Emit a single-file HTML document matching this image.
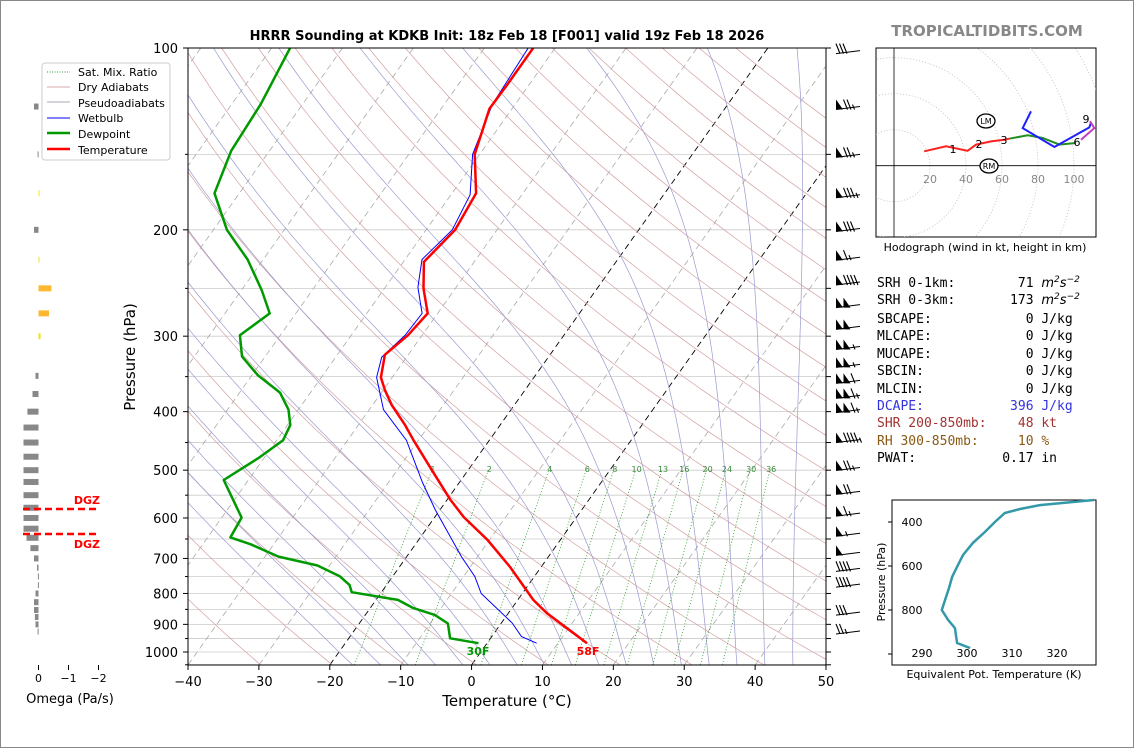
<!DOCTYPE html>
<html><head><meta charset="utf-8"><style>
html,body{margin:0;padding:0;background:#fff}
svg{display:block;font-family:"DejaVu Sans","Liberation Sans",sans-serif}
.mono{font-family:"DejaVu Sans Mono","Liberation Mono",monospace;font-size:13px;white-space:pre}
</style></head><body>
<svg id="chart" width="1134" height="748" viewBox="0 0 1134 748" xmlns="http://www.w3.org/2000/svg">
<rect x="0.5" y="0.5" width="1133" height="747" fill="#fff" stroke="#888"/>
<defs><clipPath id="plotclip"><rect x="188" y="48" width="638" height="617"/></clipPath>
<clipPath id="hodoclip"><rect x="876" y="48" width="220" height="189"/></clipPath></defs>
<text x="507" y="40" text-anchor="middle" font-size="13" font-weight="bold">HRRR Sounding at KDKB Init: 18z Feb 18 [F001] valid 19z Feb 18 2026</text>
<text x="987" y="36" text-anchor="middle" font-size="15" font-weight="bold" fill="#888">TROPICALTIDBITS.COM</text>
<g id="bg" clip-path="url(#plotclip)"></g>
<g id="profiles" clip-path="url(#plotclip)"></g>
<rect x="188" y="48" width="638" height="617" fill="none" stroke="#000"/>
<g id="axes"></g>
<text x="507" y="706" text-anchor="middle" font-size="15">Temperature (°C)</text>
<text transform="translate(135,357) rotate(-90)" text-anchor="middle" font-size="15">Pressure (hPa)</text>
<text x="478" y="655" text-anchor="middle" font-size="11" font-weight="bold" fill="#009900">30F</text>
<text x="588" y="655" text-anchor="middle" font-size="11" font-weight="bold" fill="#ff0000">58F</text>
<g id="barbs"></g>
<g id="omega"></g>
<g>
<rect x="42" y="63" width="128" height="97" rx="3" fill="#fff" stroke="#ccc"/>
<line x1="47" y1="72" x2="70" y2="72" stroke="#2a9a2a" stroke-dasharray="1,1.5"/>
<text x="78" y="76" font-size="11">Sat. Mix. Ratio</text>
<line x1="47" y1="87" x2="70" y2="87" stroke="#d8aaaa"/>
<text x="78" y="91" font-size="11">Dry Adiabats</text>
<line x1="47" y1="102" x2="70" y2="102" stroke="#aab"/>
<text x="78" y="107" font-size="11">Pseudoadiabats</text>
<line x1="47" y1="118" x2="70" y2="118" stroke="#00f"/>
<text x="78" y="122" font-size="11">Wetbulb</text>
<line x1="47" y1="133" x2="70" y2="133" stroke="#009900" stroke-width="2.5"/>
<text x="78" y="138" font-size="11">Dewpoint</text>
<line x1="47" y1="149" x2="70" y2="149" stroke="#f00" stroke-width="2.5"/>
<text x="78" y="154" font-size="11">Temperature</text>
</g>
<g id="hodo">
<rect x="876" y="48" width="220" height="189" fill="#fff" stroke="#000"/>
</g>
<text x="985" y="251" text-anchor="middle" font-size="11">Hodograph (wind in kt, height in km)</text>
<g>
<text class="mono" x="877" y="287">SRH 0-1km:        71 <tspan font-style="italic" font-family="DejaVu Sans">m<tspan dy="-5" font-size="9">2</tspan><tspan dy="5">s</tspan><tspan dy="-5" font-size="9">−2</tspan></tspan></text>
<text class="mono" x="877" y="304">SRH 0-3km:       173 <tspan font-style="italic" font-family="DejaVu Sans">m<tspan dy="-5" font-size="9">2</tspan><tspan dy="5">s</tspan><tspan dy="-5" font-size="9">−2</tspan></tspan></text>
<text class="mono" x="877" y="323">SBCAPE:            0 J/kg</text>
<text class="mono" x="877" y="340">MLCAPE:            0 J/kg</text>
<text class="mono" x="877" y="358">MUCAPE:            0 J/kg</text>
<text class="mono" x="877" y="375">SBCIN:             0 J/kg</text>
<text class="mono" x="877" y="393">MLCIN:             0 J/kg</text>
<text class="mono" x="877" y="410" fill="#3333dd">DCAPE:           396 J/kg</text>
<text class="mono" x="877" y="427" fill="#a33333">SHR 200-850mb:    48 kt</text>
<text class="mono" x="877" y="445" fill="#8b5a14">RH 300-850mb:     10 %</text>
<text class="mono" x="877" y="462">PWAT:           0.17 in</text>
</g>
<g id="thetae">
<rect x="892" y="500" width="204" height="165" fill="#fff" stroke="#000"/>
</g>
<text x="994" y="678" text-anchor="middle" font-size="11">Equivalent Pot. Temperature (K)</text>
<text transform="translate(885,582) rotate(-90)" text-anchor="middle" font-size="11">Pressure (hPa)</text>
</svg>
<script>
// ---- Data ----
const tempP = [967,862,820,723,652,598,560,500,446,421,390,368,351,322,299,275,250,226,200,174,150,126,115,100];
const tempT = [14.1,5.4,2.2,-4.4,-10.3,-15.9,-19.5,-25.1,-30.7,-33.4,-37.3,-39.8,-41.6,-43.3,-42,-41.4,-44.5,-47.1,-45.9,-46.6,-50.7,-53.2,-53.1,-53.1];
const dewP = [967,949,897,868,846,820,796,775,749,719,695,663,646,599,519,476,446,421,397,372,348,324,299,275,252,224,200,174,148,124,100];
const dewT = [-1.2,-5.7,-7.5,-10.2,-13.9,-16.9,-24.2,-25.2,-27.5,-31.7,-38.1,-43.3,-46.8,-47.2,-53.5,-50.7,-49.1,-49.6,-51.4,-54.3,-59.2,-63.3,-65.7,-63.7,-67.1,-72.2,-78.1,-83.5,-85.4,-85.9,-87.4];
const wbP = [967,943,895,800,750,695,581,524,446,397,351,325,299,275,249,224,200,175,150,124,100];
const wbT = [7.0,4.2,1.5,-5.8,-8.4,-12.3,-20.7,-25.2,-31.7,-38,-42.2,-43.5,-42.4,-42.2,-45.4,-47.6,-46.3,-47.3,-51,-53.2,-53.8];
const pTicks = [100,200,300,400,500,600,700,800,900,1000];
const tTicks = [-40,-30,-20,-10,0,10,20,30,40,50];
const mixRatios = [1,2,4,6,8,10,13,16,20,24,30,36];
const barbP = [101,125,150,175,199,222,244,266,289,312,334,355,376,397,445,495,542,589,636,684,727,772,859,923];
const barbSpd = [30,75,75,85,80,65,90,100,100,105,105,110,115,115,95,75,70,65,55,50,40,40,30,25];
const omegaP = [125,150,174,200,224,250,275,300,349,374,400,425,450,475,500,523,550,577,600,625,647,673,700,725,750,775,800,827,852,875,900,925];
const omegaV = [0.15,0.03,-0.02,0.15,-0.03,-0.43,-0.35,-0.07,0.1,0.2,0.37,0.5,0.5,0.5,0.5,0.5,0.5,0.5,0.5,0.5,0.4,0.27,0.15,0.05,0.02,0.02,0.1,0.15,0.15,0.12,0.1,0.03];
const hodoRedU = [16.8,28.9,40.9,45.6,53.9,61.3,64];
const hodoRedV = [8,10.8,8.3,11.7,13.5,14.4,15];
const hodoGreenU = [64,74.3,82.6,91.9,101];
const hodoGreenV = [15,16.9,15.4,11.7,12.6];
const hodoBlueU = [76.1,71.5,89.1,108.5,109.4];
const hodoBlueV = [30.2,20.9,10.4,21.3,23.7];
const hodoPurpleU = [103.9,111.3,108.9];
const hodoPurpleV = [14.4,20.9,24.7];
const thetaP = [973,950,882,845,800,755,700,650,595,550,495,445,400,359,341,323,300];
const thetaK = [300.7,297.8,297.3,295.8,294.4,295.1,296.0,296.7,298.0,299.1,301.3,304.0,306.2,308.4,311.8,316.2,328.2];

// ---- Scales ----
const NS='http://www.w3.org/2000/svg';
function yP(p){return 48+604*Math.log10(p/100);}
function xT(T,p){return 188+(T+40)*7.089+0.71*(665-yP(p));}
function mk(parent,tag,attrs){const e=document.createElementNS(NS,tag);for(const k in attrs)e.setAttribute(k,attrs[k]);parent.appendChild(e);return e;}
function ptsFromTP(P,T){return P.map((p,i)=>xT(T[i],p).toFixed(1)+','+yP(p).toFixed(1)).join(' ');}
const bg=document.getElementById('bg'), pr=document.getElementById('profiles'), ax=document.getElementById('axes');

for(let p=100;p<=1050;p+=50){
 const l=mk(bg,'line',{x1:188,x2:826,y1:yP(p),y2:yP(p),stroke:'#ccc','stroke-width':0.8});
 
 
}
for(let T=-130;T<=50;T+=10){
 const hi=(T===0||T===-20);
 const l=mk(bg,'line',{x1:xT(T,1050),y1:yP(1050),x2:xT(T,100),y2:yP(100),stroke:hi?'#000':'#aaa','stroke-width':hi?0.9:0.8,'stroke-dasharray':'6,4'});
 
 
}
for(let th=230;th<=480;th+=10){
 const pts=[];for(let p=1050;p>=100;p-=10){const T=th*Math.pow(p/1000,0.2857)-273.15;pts.push(xT(T,p).toFixed(1)+','+yP(p).toFixed(1));}
 const l=mk(bg,'polyline',{points:pts.join(' '),fill:'none',stroke:'#d4a0a0','stroke-width':0.7});
 
 
}
function es(Tc){return 6.112*Math.exp(17.67*Tc/(Tc+243.5));}
function dTdp(Tk,p){const Tc=Tk-273.15,e=es(Tc),rs=0.622*e/(p-e),Rd=287,Lv=2.5e6,Cp=1005;return (1/p)*(Rd*Tk+Lv*rs)/(Cp+Lv*Lv*rs*0.622/(Rd*Tk*Tk));}
for(let T0=-20;T0<=44;T0+=4){
 let Tk=T0+273.15, pts=[];
 let Tb=Tk-dTdp(Tk,1000)*(-50);
 pts.push(xT(Tb-273.15,1050).toFixed(1)+','+yP(1050).toFixed(1));
 for(let p=1000;p>=100;p-=5){pts.push(xT(Tk-273.15,p).toFixed(1)+','+yP(p).toFixed(1));Tk+=dTdp(Tk,p)*(-5);}
 const l=mk(bg,'polyline',{points:pts.join(' '),fill:'none',stroke:'#9a9ad0','stroke-width':0.7});
 
 
}
function tdFromW(w,p){const e=w*p/(622+w),a=Math.log(e/6.112);return 243.5*a/(17.67-a);}
mixRatios.forEach(w=>{
 const l=mk(bg,'line',{x1:xT(tdFromW(w,1050),1050),y1:yP(1050),x2:xT(tdFromW(w,500),500),y2:yP(500),stroke:'#2a9a2a','stroke-width':0.8,'stroke-dasharray':'1,2'});
 
 
 const t=mk(pr,'text',{x:xT(tdFromW(w,505),505)+2,y:yP(505)-1,'font-size':8,fill:'#3a8a3a','text-anchor':'middle'});
 t.textContent=w;
 
 
});
let el=mk(pr,'polyline',{points:ptsFromTP(wbP,wbT),fill:'none',stroke:'#0000ff','stroke-width':1});


el=mk(pr,'polyline',{points:ptsFromTP(dewP,dewT),fill:'none',stroke:'#009900','stroke-width':2.5,'stroke-linejoin':'round'});


el=mk(pr,'polyline',{points:ptsFromTP(tempP,tempT),fill:'none',stroke:'#ff0000','stroke-width':2.5,'stroke-linejoin':'round'});



pTicks.forEach(p=>{
 const y=yP(p);
 const t=mk(ax,'line',{x1:183,x2:188,y1:y,y2:y,stroke:'#000'});
 
 
 const lb=mk(ax,'text',{x:178,y:y+5,'text-anchor':'end','font-size':13});
 lb.textContent=p;
 
 
});
for(let p=150;p<=1050;p+=100){
 const t=mk(ax,'line',{x1:185,x2:188,y1:yP(p),y2:yP(p),stroke:'#000'});
 
 
}
for(let p=100;p<=1050;p+=50){
 const t=mk(ax,'line',{x1:826,x2:831,y1:yP(p),y2:yP(p),stroke:'#000'});
 
 
}
tTicks.forEach(T=>{
 const x=188+(T+40)*7.089;
 const t=mk(ax,'line',{x1:x,x2:x,y1:665,y2:670,stroke:'#000'});
 
 
 const lb=mk(ax,'text',{x:x,y:686,'text-anchor':'middle','font-size':13});
 lb.textContent=T<0?'−'+(-T):T;
 
 
});

// wind barbs
const bb=document.getElementById('barbs');
barbP.forEach((p,i)=>{
 const y=yP(p)+3, g=mk(bb,'g',{});
 
 
 mk(g,'line',{x1:836,y1:y,x2:860,y2:y-3,stroke:'#000','stroke-width':1});
 let s=Math.round(barbSpd[i]/5)*5, x=836;
 while(s>=50){mk(g,'polygon',{points:`${x},${y} ${x},${y-10} ${x+7},${y}`,fill:'#000'});x+=7.5;s-=50;}
 while(s>=10){mk(g,'line',{x1:x,y1:y-10,x2:x+4,y2:y,stroke:'#000','stroke-width':1.1});x+=3.5;s-=10;}
 if(s>=5){mk(g,'line',{x1:x+2,y1:y-5,x2:x+4,y2:y,stroke:'#000','stroke-width':1.1});}
});

// omega panel
const om=document.getElementById('omega');
function xO(v){return 38.5-v*30;}
omegaP.forEach((p,i)=>{
 const v=omegaV[i], y=yP(p), x0=Math.min(xO(0),xO(v)), w=Math.abs(xO(v)-xO(0));
 const col=v>=0?'#888':(v<-0.2?'#fbb830':'#f5e020');
 const r=mk(om,'rect',{x:x0,y:y-3,width:Math.max(w,1),height:6,fill:col});
 
 
});
[[0,'0'],[-1,'−1'],[-2,'−2']].forEach(d=>{
 const t=mk(om,'line',{x1:xO(d[0]),x2:xO(d[0]),y1:665,y2:670,stroke:'#000'});
 
 
 const lb=mk(om,'text',{x:xO(d[0]),y:682,'text-anchor':'middle','font-size':11});
 lb.textContent=d[1];
 
 
});
el=mk(om,'text',{x:70,y:703,'text-anchor':'middle','font-size':13});
el.textContent='Omega (Pa/s)';


[[509,504],[534,548]].forEach(d=>{
 const l=mk(om,'line',{x1:23,x2:98,y1:d[0],y2:d[0],stroke:'#f00','stroke-width':2.5,'stroke-dasharray':'7,4'});
 
 
 const t=mk(om,'text',{x:100,y:d[1],'text-anchor':'end','font-size':11,'font-weight':'bold',fill:'#f00'});
 t.textContent='DGZ';
 
 
});

// hodograph
const hd=document.getElementById('hodo');
const hg=mk(hd,'g',{'clip-path':'url(#hodoclip)'});
function hx(u){return 894+u*1.8;} function hy(v){return 165.7-v*1.8;}
for(let r=20;r<=140;r+=20){
 const c=mk(hg,'circle',{cx:hx(0),cy:hy(0),r:r*1.8,fill:'none',stroke:'#bbb','stroke-dasharray':'1,2','stroke-width':0.8});
 
 
}
el=mk(hg,'line',{x1:876,x2:1096,y1:hy(0),y2:hy(0),stroke:'#000','stroke-width':0.8});


el=mk(hg,'line',{x1:hx(0),x2:hx(0),y1:48,y2:237,stroke:'#000','stroke-width':0.8});


[20,40,60,80,100].forEach(k=>{
 const t=mk(hg,'text',{x:hx(k),y:183,'text-anchor':'middle','font-size':11,fill:'#888'});
 t.textContent=k;
 
 
});
[[hodoRedU,hodoRedV,'#ff2020','hodo-0-3km'],[hodoGreenU,hodoGreenV,'#209020','hodo-3-6km'],[hodoBlueU,hodoBlueV,'#2020ff','hodo-6-9km'],[hodoPurpleU,hodoPurpleV,'#c040c0','hodo-9-12km']].forEach(s=>{
 const l=mk(hg,'polyline',{points:s[0].map((u,i)=>hx(u).toFixed(1)+','+hy(s[1][i]).toFixed(1)).join(' '),fill:'none',stroke:s[2],'stroke-width':2});
 
 
});
[['1',953,153],['2',979,148],['3',1004,144],['6',1077,146],['9',1086,123]].forEach(d=>{
 const t=mk(hg,'text',{x:d[1],y:d[2],'text-anchor':'middle','font-size':11});
 t.textContent=d[0];
 
 
});
[['LM',986,121],['RM',989,166]].forEach(d=>{
 const c=mk(hg,'ellipse',{cx:d[1],cy:d[2],rx:9,ry:7,fill:'#fff',stroke:'#000','stroke-width':1.3});
 
 
 const t=mk(hg,'text',{x:d[1],y:d[2]+3,'text-anchor':'middle','font-size':8});
 t.textContent=d[0];
 
 
});

// theta-e panel
const te=document.getElementById('thetae');
function tx(k){return 922+(k-290)*4.5;} function ty(p){return 522+(p-400)*0.22;}
el=mk(te,'polyline',{points:thetaK.map((k,i)=>tx(k).toFixed(1)+','+ty(thetaP[i]).toFixed(1)).join(' '),fill:'none',stroke:'#3399aa','stroke-width':2.5});


[400,600,800,1000].forEach(p=>{
 const t=mk(te,'line',{x1:888,x2:892,y1:ty(p),y2:ty(p),stroke:'#000'});
 
 
 if(p<1000){const lb=mk(te,'text',{x:912,y:ty(p)+4,'text-anchor':'middle','font-size':11});
 lb.textContent=p;
 
 }
});
[290,300,310,320].forEach(k=>{
 const lb=mk(te,'text',{x:tx(k),y:657,'text-anchor':'middle','font-size':11});
 lb.textContent=k;
 
 
});
</script>
</body></html>
